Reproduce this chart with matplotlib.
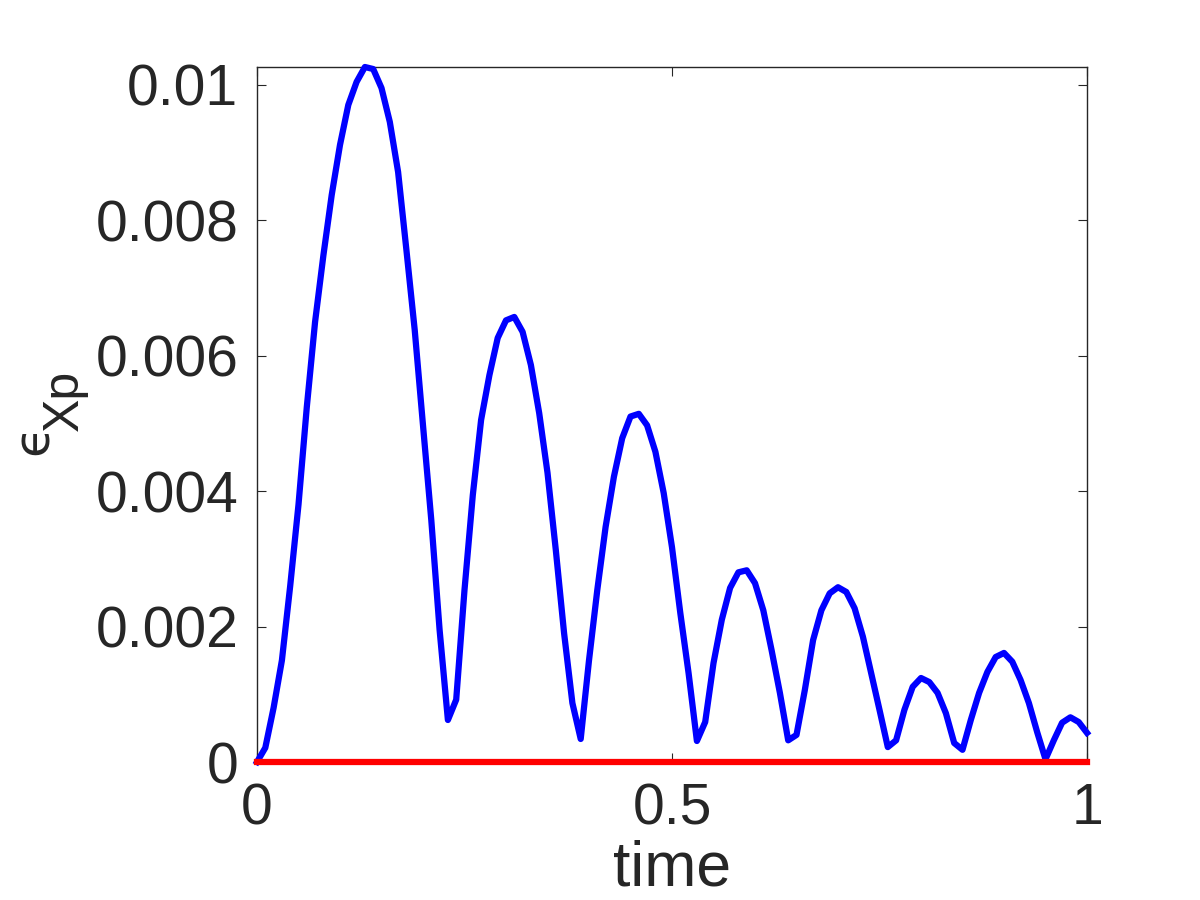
import numpy as np
import matplotlib
matplotlib.use('Agg')
import matplotlib.pyplot as plt

plt.rcParams['font.family'] = ['Liberation Sans', 'DejaVu Sans']

# error of Xp over time, sampled every 0.01
time = np.linspace(0, 1, 101)
err_xp = [
    0.0, 0.00021, 0.0008, 0.0015, 0.0026, 0.0038, 0.00524, 0.0065, 0.00748, 0.00837,
    0.00911, 0.0097, 0.01004, 0.01026, 0.01023, 0.00995, 0.00945, 0.00871, 0.00756, 0.00638,
    0.00497, 0.00357, 0.00195, 0.00062, 0.00092, 0.00254, 0.00394, 0.00505, 0.00571, 0.00626,
    0.00652, 0.00657, 0.00635, 0.00586, 0.00515, 0.00427, 0.00313, 0.0019, 0.00087, 0.00034,
    0.0015, 0.00254, 0.00347, 0.00421, 0.00478, 0.0051, 0.00514, 0.00497, 0.00458, 0.00397,
    0.00317, 0.0022, 0.00131, 0.00031, 0.00059, 0.00146, 0.0021, 0.00257, 0.0028, 0.00283,
    0.00264, 0.00224, 0.00165, 0.00102, 0.00032, 0.0004, 0.00106, 0.0018, 0.00224, 0.00249,
    0.00258, 0.00251, 0.00227, 0.00185, 0.00131, 0.00077, 0.00022, 0.00032, 0.00077, 0.00111,
    0.00124, 0.00118, 0.00102, 0.00072, 0.00028, 0.00018, 0.00062, 0.00102, 0.00133, 0.00155,
    0.00161, 0.00148, 0.00121, 0.00087, 0.00044, 0.00004, 0.00032, 0.00058, 0.00066, 0.00059,
    0.00043,
]
err_ref = np.zeros(len(time))

xticks = [0, 0.5, 1]
xtick_labels = ['0', '0.5', '1']
yticks = [0, 0.002, 0.004, 0.006, 0.008, 0.01]
ytick_labels = ['0', '0.002', '0.004', '0.006', '0.008', '0.01']

dark = '#262626'

fig = plt.figure(figsize=(12, 9), dpi=100)
ax = fig.add_axes([257 / 1200, 138 / 900, 830 / 1200, 695 / 900])

ax.plot(time, err_xp, color='#0000ff', lw=4.5, clip_on=False, zorder=3)
ax.plot(time, err_ref, color='#ff0000', lw=4.5, clip_on=False, zorder=4)

ax.set_xlim(0, 1)
ax.set_ylim(0, max(err_xp))
ax.set_xticks(xticks)
ax.set_xticklabels(xtick_labels)
ax.set_yticks(yticks)
ax.set_yticklabels(ytick_labels)

for s in ax.spines.values():
    s.set_color(dark)
    s.set_linewidth(1.0)
ax.tick_params(direction='in', top=True, right=True, length=6.5, width=0.8,
               colors=dark, labelsize=41)
ax.tick_params(axis='x', pad=14.5)
ax.tick_params(axis='y', pad=13.5)

ax.set_xlabel('time', fontsize=45, color=dark)
ax.xaxis.set_label_coords(0.5, (762 - 885) / 695)
ax.xaxis.label.set_va('baseline')

# y label: epsilon with Xp subscript, drawn in pixels
fig.text(48 / 1200, 1 - 455 / 900, '\u03f5', fontsize=36, color=dark, rotation=90,
         rotation_mode='anchor', ha='left', va='baseline', family=['DejaVu Sans'])
fig.text(78 / 1200, 1 - 431 / 900, 'Xp', fontsize=36, color=dark, rotation=90,
         rotation_mode='anchor', ha='left', va='baseline')

fig.savefig('out.png', dpi=100)
